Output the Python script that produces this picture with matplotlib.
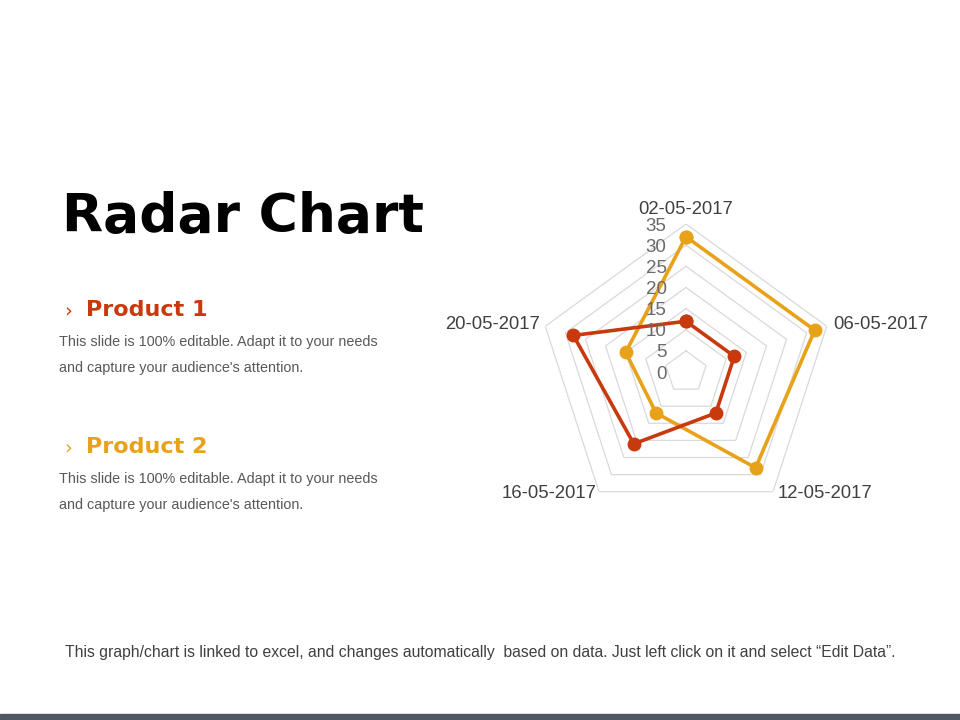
import numpy as np
import matplotlib
matplotlib.use("Agg")
import matplotlib.pyplot as plt
from matplotlib.patches import Rectangle

categories = ["02-05-2017", "06-05-2017", "12-05-2017", "16-05-2017", "20-05-2017"]
product_1 = [12, 12, 12, 21, 28]
product_2 = [32, 32, 28, 12, 15]
ring_levels = [5, 10, 15, 20, 25, 30, 35]
tick_labels = ["0", "5", "10", "15", "20", "25", "30", "35"]

RED = "#C9390E"
ORANGE = "#E8A21A"
GRAY_TXT = "#595959"

fig = plt.figure(figsize=(9.6, 7.2), dpi=100)
fig.patch.set_facecolor("white")

# radar axes: center ~ (686, 372) px, radius ~148 px
cx, cy, rad = 686 / 960, 1 - 372 / 720, 148
ax = fig.add_axes([cx - rad / 960, cy - rad / 720, 2 * rad / 960, 2 * rad / 720],
                  projection="polar")
ax.set_theta_offset(np.pi / 2)
ax.set_theta_direction(-1)
ax.set_ylim(0, 35)
ax.grid(False)
ax.spines["polar"].set_visible(False)
ax.set_xticks([])
ax.set_yticks([])
ax.patch.set_alpha(0)

n = len(categories)
angles = np.linspace(0, 2 * np.pi, n, endpoint=False)
closed = np.concatenate([angles, angles[:1]])

for lv in ring_levels:
    ax.plot(closed, [lv] * (n + 1), color="#D9D9D9", lw=0.9, zorder=1)

for vals, col in [(product_2, ORANGE), (product_1, RED)]:
    v = list(vals) + [vals[0]]
    ax.plot(closed, v, color=col, lw=2.6, marker="o", ms=9, zorder=3,
            clip_on=False)

for i, lab in enumerate(tick_labels):
    ax.annotate(lab, xy=(0, i * 5), xytext=(-14, -1.5), textcoords="offset points",
                ha="right", va="center", fontsize=13.5, color="#6A6A6A",
                family="Liberation Sans", annotation_clip=False)

offsets = [((0, 10.5), "center"),
           ((4.5, 1), "left"),
           ((3.5, -1.5), "left"),
           ((-1.5, -1.5), "right"),
           ((-4, 1), "right")]
for ang, lab, (off, ha) in zip(angles, categories, offsets):
    ax.annotate(lab, xy=(ang, 35), xytext=off, textcoords="offset points",
                ha=ha, va="center",
                fontsize=13.3, color="#404040", family="Liberation Sans",
                annotation_clip=False)

# left side text
fig.text(62 / 960, 1 - 232 / 720, "Radar Chart", fontsize=38.5, fontweight="bold",
         family="DejaVu Sans", color="black", va="baseline")

body = "This slide is 100% editable. Adapt it to your needs"
body2 = "and capture your audience's attention."
for y0, name, col in [(310, "Product 1", RED), (447, "Product 2", ORANGE)]:
    fig.text(64 / 960, 1 - (y0 + 1) / 720, "›", fontsize=14, color=col,
             va="center", family="DejaVu Sans")
    fig.text(86 / 960, 1 - y0 / 720, name, fontsize=16, fontweight="bold",
             color=col, va="center", family="DejaVu Sans")
    fig.text(59 / 960, 1 - (y0 + 32) / 720, body, fontsize=10.4, color=GRAY_TXT,
             va="center", family="Liberation Sans")
    fig.text(59 / 960, 1 - (y0 + 58) / 720, body2, fontsize=10.4, color=GRAY_TXT,
             va="center", family="Liberation Sans")

fig.text(480 / 960, 1 - 652 / 720,
         "This graph/chart is linked to excel, and changes automatically  based on data. "
         "Just left click on it and select \u201cEdit Data\u201d.",
         fontsize=11.3, color="#404040", ha="center", va="center",
         family="Liberation Sans")

fig.patches.append(Rectangle((0, 0), 1, 6 / 720, transform=fig.transFigure,
                             color="#4F5966", zorder=0))

fig.savefig("out.png", dpi=100, facecolor="white")
